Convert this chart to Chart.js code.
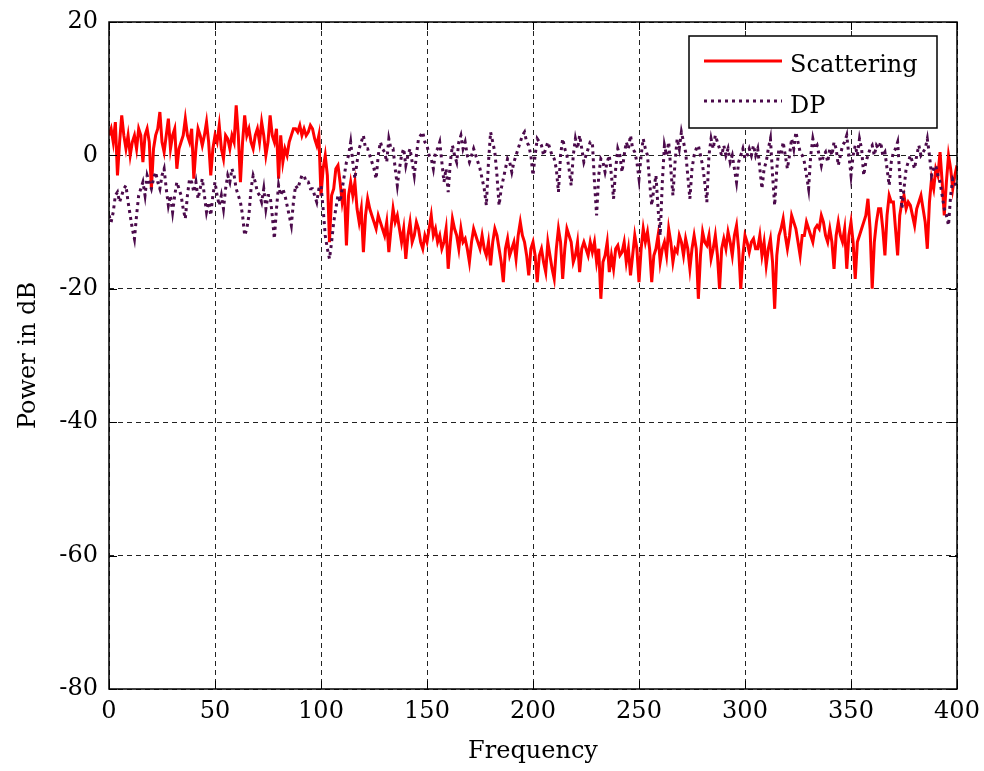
<!DOCTYPE html>
<html>
<head>
<meta charset="utf-8">
<script src="https://cdn.jsdelivr.net/npm/chart.js@4"></script>
<style>
  html, body { margin: 0; padding: 0; background: #fff; }
  #wrap { width: 984px; height: 771px; }
</style>
</head>
<body>
<div id="wrap"><canvas id="psdChart" width="984" height="771"></canvas></div>
<script>
// frequency grid: 0..400, one sample per unit
const freqStep = 1;
const freqMax = 400;

// power spectra in dB, 20 samples per row
const scatteringDb = [
    3, 4, 2, 5, -3, 2, 6, 3, 1, 3, 0, 2, 3, 1, 4, 3, -1, 3, 4, 2,
    -5, 1, 3, 4, 6.5, 2, 0.5, 3, 5.5, 1, 3, 4, -2, 1, 2, 3, 5.5, 3, 2, 4,
    -3.5, 1, 4, 3, 1.5, 3, 5, 2, -3, 1, 3, 2, 4.5, 1, -0.5, 3, 2.5, 1, 3, 2,
    7.5, 3, -4, 2, 6, 3, 4, 2, 1, 3, 4, 2, 5, 3, 0, 2, 6, 3, 2, 4,
    -3.5, 3, -1, 1, 0, 2, 3, 4, 4, 3.5, 4.5, 3, 4, 3, 3.5, 4.5, 4, 2.5, 1.5, 3,
    -6, -2, 0, -3, -13, -6, -5, -2, -1.5, -4, -7, -5, -13.5, -6, -4, -6, -4, -8, -10, -8,
    -14.5, -9, -6.5, -8, -9, -10, -11, -9, -10, -11, -12, -10, -14.5, -11, -8, -10, -9, -11, -13, -11,
    -15.5, -12, -10, -13, -12, -10, -11, -13, -14, -12, -13, -11, -9, -12, -11, -13, -12, -14, -13, -11,
    -17, -13, -9.5, -11, -12, -14, -11, -13, -12.5, -14, -16, -13, -11, -12, -13, -14, -12, -14, -15, -13,
    -16.5, -13, -11, -12, -14, -16, -19, -14, -12.5, -15, -14, -13, -15.5, -12, -10, -12, -13, -15, -18, -14,
    -13, -15, -19, -15, -14, -16, -17.5, -13, -15, -17, -18.5, -14, -11, -13, -18.5, -14, -11, -12, -13, -16,
    -15, -13, -17.5, -14, -13, -14, -15, -13, -14.5, -13, -16, -14, -21.5, -16, -15, -13, -17.5, -15, -17, -14,
    -13.5, -15, -14.5, -13, -16, -14, -18, -15, -12, -14, -19, -14, -11, -13, -11.5, -14, -19, -15, -14, -12,
    -16, -14, -13, -15, -11, -13, -16, -14, -14.5, -12, -13, -15, -12.5, -14, -17, -14, -12, -14, -21.5, -15,
    -11.5, -13, -13.5, -12, -15.5, -14, -12, -15, -20, -14, -12.5, -14, -11.5, -13, -15, -12, -10.5, -14, -20, -15,
    -12, -13, -14.5, -13, -12.5, -14, -14, -12, -15, -13, -16.5, -14, -12.5, -16, -23, -15, -12, -11, -9.5, -12,
    -14, -12, -9, -10, -11, -13, -15, -12, -12, -10, -11, -12, -13, -11, -10.5, -11, -9, -10, -12, -13,
    -11, -13, -17, -12, -10, -12, -13, -11, -17, -12, -10, -13, -18.5, -13, -12, -11, -10, -9, -6.5, -11,
    -20, -13, -10, -8, -8, -11, -15, -9, -6, -7, -7, -11, -15, -9, -7, -6, -8, -7, -7.5, -9,
    -10.5, -8, -7, -6, -8, -10, -14, -7, -3.5, -5, -2, -3, 0.5, -4, -9, -4, 0, -2, -5, -3,
    -1.5
];

const dpDb = [
    -9, -10, -8.5, -6, -5.5, -7, -6, -5, -4.5, -7, -9, -11, -12.5, -9, -6, -5, -4, -6, -3, -4,
    -5, -3.5, -2.5, -4, -5, -3, -2, -5, -7.5, -6, -8.5, -6, -4, -5, -6, -8, -9.5, -6, -3.5, -4,
    -5.5, -4, -6.5, -5, -3.5, -6, -8.5, -7, -9, -6, -4, -6, -7.5, -6, -8, -5, -3, -4, -2, -3,
    -5, -6, -7, -9, -12, -11, -9, -5, -3, -4, -5.5, -6, -7, -5, -8, -6, -6, -9, -12.5, -8,
    -4.5, -6, -5, -6, -7.5, -9, -10.5, -7, -4.5, -5, -4, -3, -3, -4, -4, -5, -5, -6, -7, -5,
    -4.5, -8, -12, -14, -15.5, -13, -10, -8, -6, -7, -5, -3, -1, 0, 2, -1, -3.5, -1, 1, 2,
    3, 1, 1, 0, -1, -2, -3.5, 0, 2, 1, 0.5, -1, 2.5, 1, 1, -2, -4.5, -2, 0, 1,
    -1.5, 0, 1, -1, -3, 0, 2.5, 3, 3.5, 2, 1.5, 0, -0.5, -2, 0.5, 1, 2, -1, -4, -2,
    -5.5, -1, 1.5, 0, -1, 2, 3, 1, 2, 0, -1, 0, 1, 0, -1, -2, -3.5, -5, -7.5, -1,
    3.5, 2, 0.5, -3, -7.5, -5, -3.5, -2, -0.5, -1, -2.5, -1, 0, 1, 2, 3, 3.5, 2, 1.5, 0,
    -3, 0, 2.5, 2, 1.5, 0, 1, 2, 1, 0, -0.5, -2, -5.5, 0, 2.5, 1, 0, -2, -4.5, 0,
    2.5, 1, 3, 1, -1, 0, 1, 2, 2, -4, -9, -3, -0.5, -1, -2.5, -1, 0, -3, -6.5, -2,
    1, 0, -2.5, 0, 2, 1, 3, 1, 0.5, -1, -3.5, 0, 2.5, 1, 0, -4, -7.5, -5, -3, -8,
    -12, -4, 1.5, 0, 2, -2, -6, -1, 2.5, 1, 3.5, 2, 0.5, -3, -6.5, -2, 0, 1, 1.5, 0,
    -1.5, -4, -7, 0, 2.5, 1, 3, 2, 1, 0, 1.5, 0, 1, -1, 0, -2, -4, -1, 0, 1,
    -0.5, 0, 1, 0, 1.5, 0, 1, -2, -5, -2, -1, 1, 2.5, -3, -7.5, -2, 1, 0, 2, 0,
    -2, 0, 2.5, 1, 3.5, 2, 0.5, 0, -1, -3, -5, 0, 2.5, 1, 1.5, 0, -1.5, 0, 0.5, -1,
    1, 0, 2, 1, -1.5, 0, 1.5, 2, 3, 0, -3, 0, 1.5, 0, 2.5, 1, -3, -1, 0, 1,
    1.5, 0, 1.5, 1, 2, 0, 0.5, -2, -4.5, -1, 0.5, 1, 2, -3, -8, -5, -2, -1, 0, -1,
    -2, 0, 1.5, 0, 0.5, 1, 2.5, 0, -3, -2, -1.5, -3, -4, -6, -8, -9, -10.5, -6, -3.5, -4,
    -5
];

const xTicks = [0, 50, 100, 150, 200, 250, 300, 350, 400];
const yTicks = [-80, -60, -40, -20, 0, 20];

const seriesNames = ['Scattering', 'DP'];
const seriesColors = ['#ff0000', '#4b0a4b'];

function toPoints(values) {
    return values.map((v, i) => ({ x: i * freqStep, y: v }));
}

const FONT = 'DejaVu Serif';
Chart.defaults.font.family = FONT;
Chart.defaults.font.size = 24;
Chart.defaults.color = '#000';

// box outline, inward tick marks and the legend box
const framePlugin = {
    id: 'frame',
    afterDraw(chart) {
        const { ctx, chartArea: a, scales: { x, y } } = chart;
        ctx.save();
        ctx.strokeStyle = '#000';
        ctx.lineWidth = 1;
        ctx.setLineDash([]);
        const tl = 8;
        ctx.beginPath();
        xTicks.forEach(t => {
            const px = Math.round(x.getPixelForValue(t)) + 0.5;
            ctx.moveTo(px, a.bottom); ctx.lineTo(px, a.bottom - tl);
            ctx.moveTo(px, a.top); ctx.lineTo(px, a.top + tl);
        });
        yTicks.forEach(t => {
            const py = Math.round(y.getPixelForValue(t)) + 0.5;
            ctx.moveTo(a.left, py); ctx.lineTo(a.left + tl, py);
            ctx.moveTo(a.right, py); ctx.lineTo(a.right - tl, py);
        });
        ctx.stroke();
        ctx.lineWidth = 1.5;
        ctx.strokeRect(a.left, a.top, a.right - a.left, a.bottom - a.top);

        // legend
        const lx = 689, ly = 36, lw = 248, lh = 92;
        ctx.fillStyle = '#fff';
        ctx.fillRect(lx, ly, lw, lh);
        ctx.lineWidth = 1.5;
        ctx.strokeStyle = '#000';
        ctx.strokeRect(lx, ly, lw, lh);

        ctx.lineWidth = 3;
        ctx.strokeStyle = seriesColors[0];
        ctx.beginPath();
        ctx.moveTo(704, 61); ctx.lineTo(782, 61);
        ctx.stroke();

        ctx.strokeStyle = seriesColors[1];
        ctx.setLineDash([3, 4]);
        ctx.beginPath();
        ctx.moveTo(704, 101); ctx.lineTo(782, 101);
        ctx.stroke();
        ctx.setLineDash([]);

        ctx.fillStyle = '#000';
        ctx.font = '24px ' + FONT;
        ctx.textBaseline = 'alphabetic';
        ctx.textAlign = 'left';
        ctx.fillText(seriesNames[0], 790, 72);
        ctx.fillText(seriesNames[1], 790, 113);
        ctx.restore();
    }
};

new Chart(document.getElementById('psdChart'), {
    type: 'line',
    data: {
        datasets: [
            {
                label: seriesNames[0],
                data: toPoints(scatteringDb),
                borderColor: seriesColors[0],
                borderWidth: 3,
                pointRadius: 0,
                tension: 0,
                order: 2
            },
            {
                label: seriesNames[1],
                data: toPoints(dpDb),
                borderColor: seriesColors[1],
                borderWidth: 3,
                borderDash: [3, 4],
                pointRadius: 0,
                tension: 0,
                order: 1
            }
        ]
    },
    options: {
        responsive: false,
        animation: false,
        layout: { padding: { left: 0, top: 22, right: 27, bottom: 0 } },
        plugins: {
            legend: { display: false },
            tooltip: { enabled: false }
        },
        scales: {
            x: {
                type: 'linear',
                min: 0,
                max: freqMax,
                afterFit: s => { s.height = 82; s.paddingLeft = 0; s.paddingRight = 0; },
                afterBuildTicks: s => { s.ticks = xTicks.map(v => ({ value: v })); },
                ticks: { padding: 8, maxRotation: 0 },
                grid: { color: '#222', lineWidth: 1, drawTicks: false },
                border: { display: false, dash: [5, 4] },
                title: { display: true, text: 'Frequency', padding: { top: 0, bottom: 5 } }
            },
            y: {
                min: -80,
                max: 20,
                afterFit: s => { s.width = 109; s.paddingTop = 0; s.paddingBottom = 0; },
                afterBuildTicks: s => { s.ticks = yTicks.map(v => ({ value: v })); },
                ticks: { padding: 11 },
                grid: { color: '#222', lineWidth: 1, drawTicks: false },
                border: { display: false, dash: [5, 4] },
                title: { display: true, text: 'Power in dB', padding: { top: 14, bottom: 0 } }
            }
        }
    },
    plugins: [framePlugin]
});
</script>
</body>
</html>
